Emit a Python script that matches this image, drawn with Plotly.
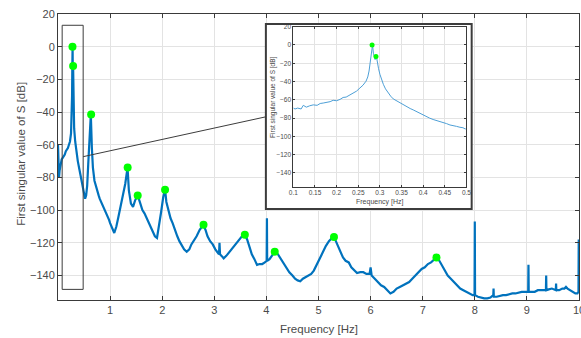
import plotly.graph_objects as go

# ---- main spectrum (Frequency [Hz], first singular value [dB]) ----
freq = [0.00, 0.01, 0.02, 0.03, 0.05, 0.07, 0.09, 0.11, 0.13, 0.15, 0.17, 0.19, 0.21, 0.23,
        0.25, 0.26, 0.27, 0.275, 0.28, 0.285, 0.29, 0.295, 0.30, 0.31, 0.33, 0.35, 0.38,
        0.41, 0.44, 0.47, 0.50, 0.52, 0.54, 0.56, 0.58, 0.60, 0.63, 0.65, 0.67, 0.70, 0.73,
        0.75, 0.78, 0.80, 0.83, 0.85, 0.88, 0.90, 0.93, 0.95, 0.98, 1.00, 1.03, 1.06, 1.08,
        1.10, 1.12, 1.16, 1.20, 1.25, 1.29, 1.335, 1.36, 1.40, 1.44, 1.48, 1.53, 1.57, 1.62,
        1.66, 1.70, 1.74, 1.78, 1.82, 1.86, 1.90, 1.94, 1.98, 2.02, 2.055, 2.08, 2.12, 2.16,
        2.20, 2.25, 2.29, 2.33, 2.38, 2.42, 2.47, 2.52, 2.56, 2.62, 2.66, 2.72, 2.76, 2.79,
        2.83, 2.87, 2.92, 2.97, 3.02, 3.06, 3.09, 3.10, 3.11, 3.14, 3.18, 3.23, 3.28, 3.33,
        3.38, 3.43, 3.48, 3.53, 3.585, 3.63, 3.68, 3.72, 3.77, 3.82, 3.87, 3.92, 3.97, 4.005,
        4.01, 4.015, 4.06, 4.11, 4.16, 4.22, 4.28, 4.33, 4.38, 4.44, 4.50, 4.55, 4.60, 4.65,
        4.70, 4.75, 4.80, 4.86, 4.91, 4.96, 5.02, 5.08, 5.14, 5.20, 5.26, 5.30, 5.36, 5.42,
        5.47, 5.52, 5.58, 5.63, 5.69, 5.74, 5.80, 5.86, 5.92, 5.98, 6.00, 6.02, 6.08, 6.14,
        6.20, 6.26, 6.32, 6.38, 6.44, 6.50, 6.56, 6.62, 6.68, 6.74, 6.80, 6.86, 6.92, 6.98,
        7.04, 7.10, 7.16, 7.22, 7.265, 7.32, 7.37, 7.42, 7.48, 7.54, 7.60, 7.66, 7.72, 7.78,
        7.84, 7.90, 7.96, 7.995, 8.00, 8.005, 8.06, 8.12, 8.18, 8.24, 8.30, 8.355, 8.36,
        8.365, 8.42, 8.48, 8.54, 8.60, 8.66, 8.72, 8.78, 8.84, 8.90, 8.96, 9.025, 9.03, 9.035,
        9.09, 9.15, 9.21, 9.27, 9.33, 9.365, 9.37, 9.375, 9.42, 9.48, 9.555, 9.56, 9.565,
        9.62, 9.68, 9.72, 9.75, 9.78, 9.83, 9.88, 9.93, 9.97, 9.99, 9.995, 10.0]
sv_db = [-60, -72, -80, -76, -71, -69, -68, -67, -66, -64, -63, -62, -60, -58,
         -53, -46, -30, -12, 0, -20, -12, -30, -42, -50, -58, -64, -70,
         -75, -80, -85, -90, -93, -91, -85, -72, -58, -41.5, -62, -74, -82, -86,
         -88, -91, -93, -95, -97, -99, -100, -102, -104, -106, -108, -110, -113, -114,
         -112, -110, -104, -98, -92, -84, -74, -88, -96, -98, -94, -91, -95, -100,
         -102, -105, -108, -110, -113, -116, -117, -110, -101, -92, -87.5, -95, -101, -105,
         -108, -113, -116, -119, -122, -124, -125.5, -124, -121, -118, -116, -112, -110, -109,
         -112, -116, -119, -121, -124, -126, -127, -120, -127, -128, -129.5, -128, -126, -124,
         -122, -120, -118, -116, -115, -118, -123, -127, -130, -133.5, -133, -133, -132, -131,
         -105, -131, -130, -128, -125.5, -127, -130, -132.5, -135, -138, -140, -142, -143, -143.5,
         -142, -141, -140, -139, -137, -134, -130, -126, -122, -119, -117, -116.5, -121, -126,
         -129, -131, -132, -135, -137, -138.5, -138, -138, -139, -139, -135, -140, -142, -144,
         -146, -147, -149, -151, -150, -148, -147, -146, -145, -144, -142, -140, -138, -136,
         -135, -133, -132, -130, -129, -131, -134, -137, -140, -142, -144, -146, -148, -149,
         -150, -151, -152, -152, -107, -152, -153, -153.5, -154, -154, -153.5, -152, -148,
         -153, -153, -152.5, -152, -152, -151.5, -151, -151, -150.5, -150, -150, -150, -133.5, -150,
         -150, -150, -149, -149, -149, -149, -140, -149, -148.5, -148, -149, -145, -149,
         -149, -148, -148, -147, -148, -149, -150, -151, -151, -150, -118, -150]

# ---- identified peaks on main plot ----
peak_f = [0.278, 0.29, 0.636, 1.337, 1.53, 2.055, 2.793, 3.586, 4.16, 5.297, 7.264]
peak_db = [0, -11.8, -41.5, -74, -91, -87.5, -109, -115, -125.5, -116.5, -129]

# ---- inset (zoom 0.1 - 0.5 Hz) ----
ins_f = [0.100, 0.104, 0.110, 0.118, 0.123, 0.130, 0.138, 0.146, 0.155, 0.162, 0.169, 0.177,
         0.185, 0.192, 0.200, 0.208, 0.215, 0.222, 0.230, 0.238, 0.246, 0.254, 0.261, 0.268,
         0.272, 0.275, 0.278, 0.281, 0.283, 0.285, 0.287, 0.289, 0.292, 0.294, 0.297, 0.300,
         0.304, 0.308, 0.313, 0.319, 0.325, 0.331, 0.338, 0.346, 0.354, 0.362, 0.370, 0.377,
         0.385, 0.393, 0.400, 0.408, 0.415, 0.423, 0.431, 0.438, 0.446, 0.454, 0.462, 0.470,
         0.477, 0.485, 0.492, 0.498, 0.500]
ins_db = [-69, -70, -69, -70, -66, -68, -66.5, -65.5, -66, -64, -63.5, -63, -62, -60.5, -61, -59.5,
          -57.4, -57, -55, -52.6, -50.5, -47, -44, -39.6, -35, -28.5, -18, -8, 0, -9, -14, -16,
          -12.6, -19, -26, -32, -38, -43, -48, -52.6, -56, -59, -61, -63.5, -65.5, -67.5, -69.5,
          -71, -73, -75, -76.7, -78, -80, -81.5, -82.5, -84, -85, -86, -87.5, -88, -89, -90,
          -90.5, -92, -91]
ins_peak_f = [0.282, 0.291]
ins_peak_db = [0, -12.6]

x_ticks = [1, 2, 3, 4, 5, 6, 7, 8, 9, 10]
y_ticks = [-140, -120, -100, -80, -60, -40, -20, 0, 20]
ins_x_ticks = [0.1, 0.15, 0.2, 0.25, 0.3, 0.35, 0.4, 0.45, 0.5]
ins_x_text = ["0.1", "0.15", "0.2", "0.25", "0.3", "0.35", "0.4", "0.45", "0.5"]

BLUE = "#0072BD"
GREEN = "#00ff00"
AX = "#3a3a3a"
GRID = "#e3e3e3"
TXT = "#4a4a4a"
FONT = "Liberation Sans, Arial, sans-serif"

fig = go.Figure()
fig.add_trace(go.Scatter(x=freq, y=sv_db, mode="lines",
                         line=dict(color=BLUE, width=2.2), xaxis="x", yaxis="y",
                         showlegend=False, hoverinfo="skip"))
fig.add_trace(go.Scatter(x=peak_f, y=peak_db, mode="markers",
                         marker=dict(color=GREEN, size=8), xaxis="x", yaxis="y",
                         showlegend=False))
fig.add_trace(go.Scatter(x=ins_f, y=ins_db, mode="lines",
                         line=dict(color="#4d9fd6", width=1), xaxis="x2", yaxis="y2",
                         showlegend=False, hoverinfo="skip"))
fig.add_trace(go.Scatter(x=ins_peak_f, y=ins_peak_db, mode="markers",
                         marker=dict(color=GREEN, size=5), xaxis="x2", yaxis="y2",
                         showlegend=False))

axis_common = dict(showline=True, linecolor=AX, linewidth=1, mirror="ticks",
                   ticks="inside", tickcolor=AX, showgrid=True, gridcolor=GRID,
                   zeroline=False, automargin=False, ticklabeloverflow="allow")

fig.update_layout(
    width=581, height=338,
    margin=dict(l=57.5, r=1.5, t=14, b=38),
    paper_bgcolor="white", plot_bgcolor="white",
    font=dict(family=FONT, color=TXT, size=11),
    xaxis=dict(range=[0, 10], tickvals=x_ticks, ticklen=4, **axis_common),
    yaxis=dict(range=[-155, 20], tickvals=y_ticks, ticklen=4, **axis_common),
    xaxis2=dict(domain=[0.4517, 0.7839], anchor="y2", range=[0.1, 0.5],
                tickvals=ins_x_ticks, ticktext=ins_x_text, ticklen=2,
                tickfont=dict(size=6.5), **axis_common),
    yaxis2=dict(domain=[0.3962, 0.9556], anchor="x2", range=[-155, 20],
                tickvals=y_ticks, ticklen=2, tickfont=dict(size=6.5), **axis_common),
    annotations=[
        dict(text="Frequency [Hz]", xref="paper", yref="paper", x=0.5, y=-0.1014,
             xanchor="center", yanchor="middle", showarrow=False, font=dict(size=11.5)),
        dict(text="First singular value of S [dB]", xref="paper", yref="paper",
             x=-0.0699, y=0.51, textangle=-90, xanchor="center", yanchor="middle",
             showarrow=False, font=dict(size=11.5)),
        dict(text="Frequency [Hz]", xref="paper", yref="paper", x=0.6184, y=0.3427,
             xanchor="center", yanchor="middle", showarrow=False, font=dict(size=7)),
        dict(text="First singular value of S [dB]", xref="paper", yref="paper",
             x=0.4126, y=0.71, textangle=-90, xanchor="center", yanchor="middle",
             showarrow=False, font=dict(size=6.5)),
    ],
    shapes=[
        # white panel behind the inset (covers main grid lines)
        dict(type="rect", xref="x", yref="y", x0=3.99, x1=7.94, y0=-99.3, y1=13.9,
             fillcolor="white", line=dict(width=0), layer="between"),
        # inset frame
        dict(type="rect", xref="x", yref="y", x0=3.99, x1=7.94, y0=-99.3, y1=13.9,
             line=dict(color="#3c3c3c", width=2), layer="above"),
        # zoom box
        dict(type="rect", xref="x", yref="y", x0=0.08, x1=0.483, y0=-148.5, y1=13.1,
             line=dict(color="#3c3c3c", width=1), layer="above"),
        # connector
        dict(type="line", xref="x", yref="y", x0=0.483, y0=-67.3, x1=3.99, y1=-42.9,
             line=dict(color="#3c3c3c", width=1), layer="above"),
    ],
)

fig.write_html("out.html", config={"displayModeBar": False},
               post_script="document.body.style.margin='0';document.body.style.overflow='hidden';")
